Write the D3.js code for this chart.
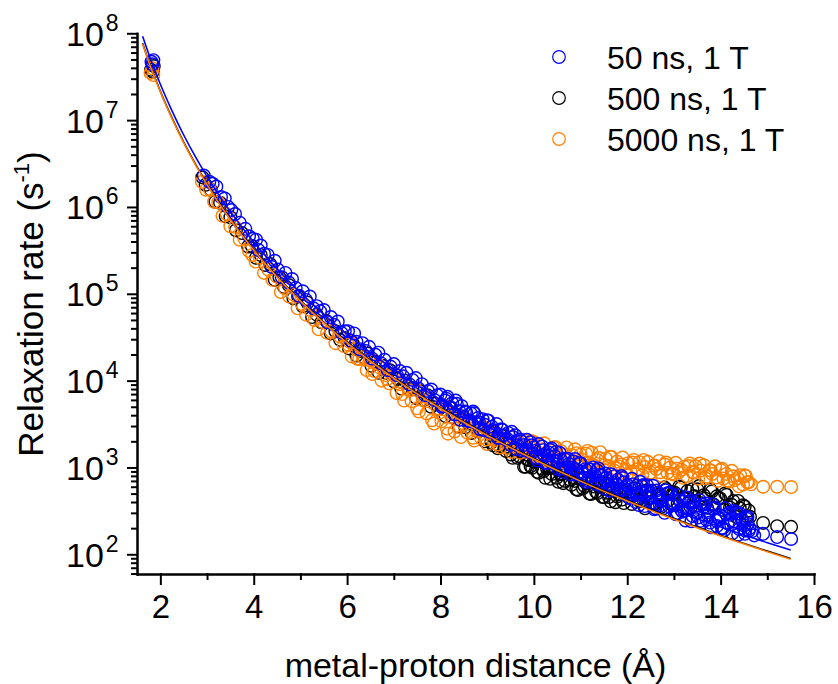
<!DOCTYPE html>
<html lang="en">

<head>
    <meta charset="UTF-8">
    <title>Relaxation rate vs metal-proton distance</title>
    <script src="https://d3js.org/d3.v7.min.js"></script>
    <style>
        body {
            margin: 0;
            background: #fff;
        }

        svg {
            display: block;
            font-family: "Liberation Sans", Arial, sans-serif;
        }
    </style>
</head>

<body>
    <svg width="838" height="684"></svg>

    <script>
        // series info
        const seriesNames = ["50 ns, 1 T", "500 ns, 1 T", "5000 ns, 1 T"];
        const seriesColors = ["#0000ff", "#000000", "#ff8000"];

        // axis ticks
        const xMajorTicks = [2, 4, 6, 8, 10, 12, 14, 16];
        const xMinorTicks = [3, 5, 7, 9, 11, 13, 15];
        const yMajorTicks = [1e2, 1e3, 1e4, 1e5, 1e6, 1e7, 1e8];

        // fitted curves
        const fitX = [1.62, 1.8, 2, 2.25, 2.5, 2.75, 3, 3.5, 4, 4.5, 5, 5.5, 6, 7, 8, 9, 10, 11, 12, 13, 14, 15, 15.5];
        const fit50 = [9.24e7, 4.89e7, 2.59e7, 1.28e7, 6.74e6, 3.79e6, 2.24e6, 8.84e5, 3.95e5, 1.94e5, 1.03e5, 5.78e4, 3.42e4, 1.35e4, 6.03e3, 2.96e3, 1570, 882, 521, 322, 206, 136, 112];
        const fit500 = [7.70e7, 4.06e7, 2.15e7, 1.06e7, 5.57e6, 3.13e6, 1.85e6, 7.26e5, 3.24e5, 1.59e5, 8.41e4, 4.71e4, 2.78e4, 1.09e4, 4.88e3, 2.39e3, 1270, 710, 418, 258, 165, 109, 89.6];
        const fit5000 = [7.55e7, 3.98e7, 2.11e7, 1.04e7, 5.46e6, 3.07e6, 1.81e6, 7.11e5, 3.18e5, 1.56e5, 8.24e4, 4.62e4, 2.72e4, 1.07e4, 4.78e3, 2.34e3, 1245, 696, 410, 253, 162, 107, 87.8];

        // measured points [distance, rate]
        const pts50 = [
            [1.81, 4.7e7], [1.83, 4.4e7], [1.85, 4.9e7],
            [2.93, 2.3e6], [3.05, 1.95e6], [3.12, 1.85e6], [3.2, 1.72e6], [3.3, 1.3e6], [3.38, 1.25e6], [3.45, 1.0e6], [3.52, 9.2e5], [3.6, 8.3e5], [3.7, 6.6e5], [3.82, 5.6e5], [3.9, 4.6e5], [3.98, 4.3e5],
            [4.05, 4.2e5], [4.1, 3.2e5], [4.15, 3.6e5], [4.22, 2.9e5], [4.3, 2.8e5], [4.38, 2.05e5], [4.45, 2.4e5], [4.52, 1.9e5], [4.6, 1.55e5], [4.68, 1.74e5], [4.75, 1.35e5], [4.82, 1.48e5], [4.9, 1.17e5], [4.97, 9.5e4],
            [5.05, 1.07e5], [5.12, 8.5e4], [5.2, 9.3e4], [5.28, 6.8e4], [5.35, 7.2e4], [5.42, 6.3e4], [5.5, 6.5e4], [5.58, 4.7e4], [5.65, 5.4e4], [5.72, 4.4e4], [5.8, 4.8e4], [5.88, 3.55e4], [5.95, 3.7e4],
            [6.02, 3.7e4], [6.08, 2.9e4], [6.15, 3.5e4], [6.2, 2.8e4], [6.27, 2.3e4], [6.33, 2.7e4], [6.4, 2.2e4], [6.47, 2.45e4], [6.53, 1.8e4], [6.6, 2.0e4], [6.67, 2.1e4], [6.73, 1.58e4], [6.8, 1.74e4], [6.87, 1.32e4], [6.93, 1.45e4],
            [7.0, 1.55e4], [7.07, 1.15e4], [7.13, 1.29e4], [7.2, 1.12e4], [7.27, 1.23e4], [7.33, 9.1e3], [7.4, 1.02e4], [7.47, 1.07e4], [7.53, 8.1e3], [7.6, 9.1e3], [7.67, 6.8e3], [7.73, 7.6e3], [7.8, 7.9e3], [7.87, 6.0e3], [7.93, 6.8e3],
            [8.0, 6.9e3], [8.05, 5.1e3], [8.1, 5.9e3], [8.15, 6.5e3], [8.2, 4.9e3], [8.25, 5.5e3], [8.3, 4.1e3], [8.35, 5.4e3], [8.4, 4.47e3], [8.45, 5.1e3], [8.5, 3.8e3], [8.55, 4.3e3], [8.6, 3.4e3], [8.65, 4.2e3], [8.7, 4.4e3], [8.75, 3.3e3], [8.8, 3.7e3], [8.85, 2.75e3], [8.9, 3.6e3], [8.95, 3.1e3],
            [9.0, 3.5e3], [9.05, 2.57e3], [9.1, 2.95e3], [9.15, 2.6e3], [9.2, 3.16e3], [9.25, 2.2e3], [9.3, 2.75e3], [9.35, 2.35e3], [9.4, 2.1e3], [9.45, 2.5e3], [9.5, 1.82e3], [9.55, 2.24e3], [9.6, 2.35e3], [9.65, 1.8e3], [9.7, 2.1e3], [9.75, 1.58e3], [9.8, 1.82e3], [9.85, 2.08e3], [9.9, 1.51e3], [9.95, 1.8e3],
            [10.0, 1.7e3], [10.05, 1.29e3], [10.08, 1.2e3], [10.1, 1.86e3], [10.15, 1.38e3], [10.2, 1.58e3], [10.25, 1.12e3], [10.3, 1.38e3], [10.35, 1.6e3], [10.38, 1.66e3], [10.4, 1.12e3], [10.45, 1.35e3], [10.5, 1.17e3], [10.55, 1.48e3], [10.6, 980], [10.62, 890], [10.65, 1.26e3], [10.7, 1000], [10.75, 1.1e3], [10.8, 830], [10.85, 1.17e3], [10.88, 1.25e3], [10.9, 955], [10.95, 830],
            [11.0, 1.12e3], [11.05, 850], [11.1, 955], [11.12, 680], [11.15, 710], [11.2, 950], [11.25, 740], [11.3, 830], [11.35, 930], [11.38, 975], [11.4, 660], [11.45, 820], [11.5, 575], [11.55, 760], [11.6, 645], [11.62, 540], [11.65, 835], [11.7, 562], [11.75, 665], [11.8, 724], [11.85, 560], [11.88, 795], [11.9, 755], [11.95, 490],
            [12.0, 630], [12.05, 445], [12.08, 490], [12.1, 740], [12.15, 500], [12.18, 402], [12.2, 615], [12.25, 370], [12.3, 515], [12.32, 610], [12.35, 630], [12.4, 405], [12.42, 625], [12.45, 535], [12.5, 445], [12.55, 615], [12.58, 330], [12.6, 340], [12.65, 510], [12.68, 473], [12.7, 365], [12.75, 450], [12.8, 300], [12.82, 545], [12.85, 500], [12.9, 355], [12.92, 507], [12.95, 380],
            [13.0, 410], [13.05, 290], [13.08, 298], [13.1, 480], [13.15, 330], [13.18, 310], [13.2, 405], [13.25, 245], [13.3, 340], [13.32, 400], [13.35, 415], [13.4, 275], [13.42, 395], [13.45, 360], [13.5, 300], [13.55, 420], [13.58, 243], [13.6, 230], [13.65, 355], [13.68, 385], [13.7, 250], [13.75, 305], [13.8, 205], [13.82, 378], [13.85, 335], [13.9, 245], [13.92, 212], [13.95, 265],
            [14.0, 280], [14.05, 200], [14.08, 190], [14.1, 340], [14.15, 228], [14.18, 300], [14.2, 285], [14.25, 175], [14.3, 240], [14.32, 308], [14.35, 295], [14.4, 195], [14.42, 292], [14.45, 255], [14.5, 215], [14.52, 172], [14.55, 258], [14.58, 224], [14.6, 186], [14.62, 200],
            [14.68, 185], [14.72, 165], [14.91, 172], [15.21, 158], [15.51, 150]
        ];

        // extra points of the dense part of the 50 ns band
        const pts50Dense = [
            [8.025, 5.0e3], [8.125, 6.2e3], [8.225, 4.9e3], [8.325, 5.9e3], [8.425, 3.55e3], [8.525, 4.4e3], [8.625, 3.45e3], [8.725, 4.2e3], [8.825, 3.3e3], [8.925, 2.7e3],
            [9.025, 3.45e3], [9.125, 2.7e3], [9.225, 2.2e3], [9.325, 2.7e3], [9.425, 2.15e3], [9.525, 2.57e3], [9.625, 1.62e3], [9.725, 2.0e3], [9.825, 1.58e3], [9.925, 1.95e3],
            [10.025, 1.55e3], [10.125, 1.29e3], [10.175, 1.74e3], [10.225, 1.38e3], [10.275, 1.15e3], [10.325, 1.48e3], [10.425, 1.2e3], [10.475, 1.51e3], [10.525, 955], [10.575, 1.23e3], [10.675, 1.0e3], [10.725, 1.26e3], [10.825, 1.0e3], [10.925, 830], [10.975, 1.12e3],
            [11.025, 890], [11.075, 760], [11.175, 955], [11.225, 795], [11.275, 1.0e3], [11.325, 645], [11.425, 813], [11.475, 676], [11.525, 851], [11.575, 708], [11.675, 589], [11.725, 794], [11.775, 631], [11.825, 537], [11.925, 676], [11.975, 562],
            [12.025, 452], [12.125, 638], [12.225, 484], [12.275, 684], [12.375, 359], [12.475, 507], [12.525, 394], [12.625, 543], [12.725, 417], [12.775, 339], [12.875, 505], [12.975, 367],
            [13.025, 292], [13.125, 418], [13.225, 320], [13.275, 450], [13.375, 240], [13.475, 343], [13.525, 266], [13.625, 372], [13.725, 285], [13.775, 232], [13.875, 347], [13.975, 254],
            [14.025, 202], [14.125, 288], [14.225, 221], [14.275, 316], [14.375, 168], [14.475, 240], [14.525, 188], [14.575, 269]
        ];

        const pts500 = [
            [1.8, 3.8e7], [1.84, 3.6e7], [1.86, 4.2e7],
            [2.9, 2.2e6], [2.97, 1.8e6], [3.08, 1.58e6], [3.18, 1.15e6], [3.28, 1.12e6], [3.4, 7.8e5], [3.5, 7.6e5], [3.62, 5.4e5], [3.75, 5.0e5], [3.88, 3.5e5], [3.96, 3.55e5],
            [4.05, 2.6e5], [4.15, 2.8e5], [4.25, 2.15e5], [4.35, 2.2e5], [4.45, 1.45e5], [4.55, 1.55e5], [4.65, 1.2e5], [4.75, 1.26e5], [4.85, 8.9e4], [4.95, 9.3e4],
            [5.05, 7.2e4], [5.15, 7.9e4], [5.25, 5.4e4], [5.35, 5.75e4], [5.45, 4.7e4], [5.55, 4.9e4], [5.65, 3.5e4], [5.75, 3.7e4], [5.85, 2.95e4], [5.95, 3.1e4],
            [6.04, 2.35e4], [6.12, 2.7e4], [6.2, 1.95e4], [6.28, 2.2e4], [6.36, 1.86e4], [6.44, 2.05e4], [6.52, 1.48e4], [6.6, 1.66e4], [6.68, 1.23e4], [6.76, 1.48e4], [6.84, 1.23e4], [6.92, 1.32e4],
            [7.0, 9.8e3], [7.08, 1.05e4], [7.16, 8.1e3], [7.24, 1.0e4], [7.32, 7.9e3], [7.4, 8.3e3], [7.48, 6.3e3], [7.56, 7.6e3], [7.64, 6.0e3], [7.72, 6.8e3], [7.8, 5.0e3], [7.88, 5.4e3], [7.96, 4.7e3],
            [8.04, 5.2e3], [8.11, 3.9e3], [8.18, 5.0e3], [8.25, 3.8e3], [8.32, 4.1e3], [8.39, 2.95e3], [8.46, 3.9e3], [8.53, 2.9e3], [8.6, 3.2e3], [8.67, 2.5e3], [8.74, 3.3e3], [8.81, 2.6e3], [8.88, 2.8e3], [8.95, 2.0e3],
            [9.02, 2.55e3], [9.09, 1.95e3], [9.16, 2.2e3], [9.23, 1.66e3], [9.3, 2.18e3], [9.37, 1.7e3], [9.44, 1.9e3], [9.51, 1.41e3], [9.58, 1.65e3], [9.65, 1.29e3], [9.72, 1.5e3], [9.79, 1.02e3], [9.86, 1.23e3], [9.93, 1.03e3],
            [10.0, 1.17e3], [10.07, 890], [10.14, 1.18e3], [10.21, 910], [10.28, 980], [10.35, 740], [10.42, 1000], [10.49, 760], [10.56, 850], [10.63, 660], [10.7, 895], [10.77, 725], [10.84, 775], [10.91, 562], [10.98, 745],
            [11.05, 575], [11.12, 662], [11.19, 502], [11.26, 676], [11.33, 525], [11.4, 600], [11.47, 457], [11.54, 565], [11.61, 455], [11.68, 558], [11.75, 398], [11.82, 490], [11.89, 427], [11.96, 537],
            [12.03, 513], [12.1, 380], [12.17, 575], [12.24, 425], [12.31, 528], [12.38, 338], [12.45, 446], [12.52, 540], [12.59, 382], [12.66, 484], [12.73, 352], [12.8, 590], [12.87, 412], [12.94, 522],
            [13.01, 515], [13.08, 378], [13.15, 585], [13.22, 437], [13.29, 535], [13.36, 347], [13.43, 468], [13.5, 560], [13.57, 389], [13.64, 478], [13.71, 343], [13.78, 555], [13.85, 375], [13.92, 465], [13.99, 440],
            [14.06, 324], [14.13, 484], [14.2, 345], [14.27, 410], [14.34, 269], [14.41, 339], [14.48, 367], [14.55, 275], [14.6, 320],
            [14.63, 270], [14.91, 230], [15.21, 211], [15.51, 207]
        ];

        const pts500Dense = [
            [9.055, 2.6e3], [9.125, 1.8e3], [9.195, 2.14e3], [9.265, 1.78e3], [9.335, 2.29e3], [9.405, 1.55e3], [9.475, 1.7e3], [9.545, 1.29e3], [9.615, 1.64e3], [9.685, 1.35e3], [9.755, 1.51e3], [9.825, 1.02e3], [9.895, 1.22e3], [9.965, 990],
            [10.035, 1.27e3], [10.105, 870], [10.175, 966], [10.245, 759], [10.315, 990], [10.385, 841], [10.455, 977], [10.525, 684], [10.595, 832], [10.665, 700], [10.735, 923], [10.805, 631], [10.875, 700], [10.945, 550],
            [11.015, 724], [11.085, 610], [11.155, 708], [11.225, 495], [11.295, 603], [11.365, 507], [11.435, 668], [11.505, 457], [11.575, 513], [11.645, 407], [11.715, 543], [11.785, 462], [11.855, 543], [11.925, 389],
            [12.135, 473], [12.275, 407], [12.415, 543], [12.555, 380], [12.695, 442], [12.835, 562], [12.975, 501], [13.115, 603], [13.255, 437], [13.395, 562], [13.535, 610], [13.675, 437], [13.815, 531], [13.955, 442],
            [14.095, 501], [14.235, 372], [14.375, 412], [14.515, 355]
        ];

        const pts5000 = [
            [1.79, 3.5e7], [1.83, 3.95e7], [1.85, 3.3e7],
            [2.89, 1.95e6], [2.98, 1.58e6], [3.06, 1.6e6], [3.15, 1.15e6], [3.24, 1.13e6], [3.33, 7.9e5], [3.42, 8.3e5], [3.5, 6.0e5], [3.6, 5.9e5], [3.7, 4.2e5], [3.8, 4.3e5], [3.9, 3.1e5], [3.97, 2.8e5],
            [4.04, 2.35e5], [4.13, 2.6e5], [4.22, 1.74e5], [4.31, 1.9e5], [4.4, 1.45e5], [4.49, 1.58e5], [4.58, 1.05e5], [4.67, 1.15e5], [4.76, 9.3e4], [4.85, 9.8e4], [4.94, 6.8e4],
            [5.03, 7.6e4], [5.12, 5.75e4], [5.21, 6.5e4], [5.3, 5.0e4], [5.39, 3.9e4], [5.48, 4.7e4], [5.57, 3.55e4], [5.66, 3.7e4], [5.75, 2.7e4], [5.84, 3.25e4], [5.93, 2.5e4],
            [6.02, 2.6e4], [6.1, 1.9e4], [6.18, 2.35e4], [6.26, 1.78e4], [6.34, 1.86e4], [6.42, 1.32e4], [6.5, 1.7e4], [6.58, 1.29e4], [6.66, 1.55e4], [6.74, 1.0e4], [6.82, 1.15e4], [6.9, 9.3e3], [6.98, 1.17e4],
            [7.06, 7.2e3], [7.14, 9.1e3], [7.22, 5.9e3], [7.3, 8.5e3], [7.38, 5.8e3], [7.46, 8.1e3], [7.54, 4.4e3], [7.62, 6.0e3], [7.7, 4.2e3], [7.78, 6.1e3], [7.86, 3.2e3], [7.94, 4.8e3],
            [8.02, 3.4e3], [8.09, 5.1e3], [8.16, 2.45e3], [8.23, 3.8e3], [8.3, 2.6e3], [8.37, 3.9e3], [8.44, 2.24e3], [8.51, 3.15e3], [8.58, 2.5e3], [8.65, 3.4e3], [8.72, 2.04e3], [8.79, 2.63e3], [8.86, 2.2e3], [8.93, 2.9e3],
            [9.0, 1.86e3], [9.07, 2.45e3], [9.14, 2.05e3], [9.21, 2.44e3], [9.28, 1.7e3], [9.35, 2.1e3], [9.42, 1.68e3], [9.49, 2.24e3], [9.56, 1.74e3], [9.63, 2.0e3], [9.7, 1.48e3], [9.77, 2.09e3], [9.84, 1.51e3], [9.91, 1.73e3], [9.98, 1.99e3],
            [10.04, 1.38e3], [10.1, 1.82e3], [10.16, 1.45e3], [10.22, 1.9e3], [10.28, 1.2e3], [10.34, 1.58e3], [10.4, 1.29e3], [10.46, 1.72e3], [10.52, 1.37e3], [10.58, 1.55e3], [10.64, 1.15e3], [10.7, 1.7e3], [10.76, 1.23e3], [10.82, 1.39e3], [10.88, 1.62e3], [10.94, 1.1e3],
            [11.0, 1.41e3], [11.06, 1.0e3], [11.12, 1.44e3], [11.18, 1.14e3], [11.24, 1.48e3], [11.3, 1.05e3], [11.36, 1.22e3], [11.42, 1.5e3], [11.48, 955], [11.54, 1.27e3], [11.6, 1.04e3], [11.66, 1.32e3], [11.72, 923], [11.78, 1.17e3], [11.84, 1.02e3], [11.9, 1.3e3], [11.96, 912],
            [12.02, 1.12e3], [12.08, 870], [12.14, 1.22e3], [12.2, 950], [12.26, 1.15e3], [12.32, 813], [12.38, 1.01e3], [12.44, 1.16e3], [12.5, 875], [12.56, 1.05e3], [12.62, 960], [12.68, 1.19e3], [12.74, 804], [12.8, 1.08e3], [12.86, 868], [12.92, 1.0e3], [12.98, 832],
            [13.04, 1.13e3], [13.1, 881], [13.16, 944], [13.22, 1.02e3], [13.28, 794], [13.34, 1.11e3], [13.4, 885], [13.46, 1.04e3], [13.52, 741], [13.58, 920], [13.64, 1.06e3], [13.7, 785], [13.76, 933], [13.82, 841], [13.88, 1.03e3], [13.94, 700],
            [14.0, 935], [14.06, 746], [14.12, 843], [14.18, 689], [14.24, 914], [14.3, 714], [14.36, 753], [14.42, 815], [14.48, 634], [14.54, 800], [14.6, 676],
            [14.65, 640], [14.91, 600], [15.21, 600], [15.51, 595]
        ];

        const pts5000Dense = [
            [6.06, 2.79e4], [6.22, 1.78e4], [6.38, 1.74e4], [6.54, 1.19e4], [6.7, 1.41e4], [6.86, 1.04e4], [7.02, 1.16e4], [7.18, 7.0e3], [7.34, 7.7e3], [7.5, 4.8e3], [7.66, 6.5e3], [7.82, 3.5e3], [7.98, 4.3e3],
            [8.14, 2.8e3], [8.28, 4.1e3], [8.42, 2.9e3], [8.56, 3.6e3], [8.7, 2.2e3], [8.84, 2.7e3], [8.98, 2.1e3], [9.1, 2.57e3], [9.24, 1.84e3], [9.38, 2.0e3], [9.52, 1.51e3], [9.66, 2.0e3], [9.8, 1.62e3], [9.94, 2.0e3],
            [10.07, 1.33e3], [10.19, 1.62e3], [10.31, 1.35e3], [10.43, 1.7e3], [10.55, 1.24e3], [10.67, 1.4e3], [10.79, 1.08e3], [10.91, 1.46e3], [11.03, 1.23e3], [11.15, 1.55e3], [11.27, 1.05e3], [11.39, 1.29e3], [11.51, 1.07e3], [11.63, 1.33e3], [11.75, 977], [11.87, 1.08e3], [11.99, 832],
            [12.11, 1.14e3], [12.23, 955], [12.35, 1.22e3], [12.47, 832], [12.59, 1.05e3], [12.71, 881], [12.83, 1.14e3], [12.95, 851], [13.07, 966], [13.19, 759], [13.31, 1.04e3], [13.43, 871], [13.55, 1.11e3], [13.67, 750], [13.79, 923], [13.91, 767],
            [14.03, 966], [14.15, 708], [14.27, 791], [14.39, 607], [14.51, 813], [14.57, 676]
        ];

        const svg = d3.select("svg");

        // scales
        const x = d3.scaleLinear()
            .domain([1.5, 16])
            .range([137, 814]);

        const y = d3.scaleLog()
            .domain([59.3, 1e8])
            .range([574, 33.3]);

        // minor log ticks = everything that is not a power of ten
        const yMinorTicks = y.ticks().filter(d => Math.abs(Math.log10(d) - Math.round(Math.log10(d))) > 1e-6);

        // scatter: black first, then orange, blue on top
        const pointSets = [
            { pts: pts500.concat(pts500Dense), color: seriesColors[1] },
            { pts: pts5000.concat(pts5000Dense), color: seriesColors[2] },
            { pts: pts50.concat(pts50Dense), color: seriesColors[0] }
        ];

        pointSets.forEach(s => {
            svg.append("g")
                .selectAll("circle")
                .data(s.pts)
                .join("circle")
                .attr("cx", d => x(d[0]))
                .attr("cy", d => y(d[1]))
                .attr("r", 6.3)
                .attr("fill", "none")
                .attr("stroke", s.color)
                .attr("stroke-width", 1.4);
        });

        // fit lines
        const line = d3.line()
            .x(d => x(d[0]))
            .y(d => y(d[1]))
            .curve(d3.curveMonotoneX);

        [[fit50, seriesColors[0]], [fit500, seriesColors[1]], [fit5000, seriesColors[2]]].forEach(([vals, color]) => {
            svg.append("path")
                .datum(fitX.map((d, i) => [d, vals[i]]))
                .attr("d", line)
                .attr("fill", "none")
                .attr("stroke", color)
                .attr("stroke-width", 1.6);
        });

        // axes
        function styleAxis(g) {
            g.selectAll("path, line")
                .attr("stroke", "#000")
                .attr("stroke-width", 2)
                .attr("stroke-linecap", "square");
        }

        svg.append("g")
            .attr("transform", "translate(0,574)")
            .call(d3.axisBottom(x).tickValues(xMinorTicks).tickSize(5).tickSizeOuter(0).tickFormat(""))
            .call(styleAxis);

        svg.append("g")
            .attr("transform", "translate(0,574)")
            .call(d3.axisBottom(x).tickValues(xMajorTicks).tickSize(10).tickSizeOuter(0).tickPadding(11))
            .call(styleAxis)
            .call(g => g.selectAll("text")
                .attr("font-size", 33)
                .attr("font-family", "Liberation Sans, Arial, sans-serif")
                .attr("fill", "#000"));

        svg.append("g")
            .attr("transform", "translate(137,0)")
            .call(d3.axisLeft(y).tickValues(yMinorTicks).tickSize(5).tickSizeOuter(0).tickFormat(""))
            .call(styleAxis);

        svg.append("g")
            .attr("transform", "translate(137,0)")
            .call(d3.axisLeft(y).tickValues(yMajorTicks).tickSize(9).tickSizeOuter(0).tickFormat(""))
            .call(styleAxis);

        // y tick labels as 10^n
        const yLabels = svg.append("g")
            .selectAll("text")
            .data(yMajorTicks)
            .join("text")
            .attr("x", 66)
            .attr("y", d => y(d) + 12.5)
            .attr("font-size", 34)
            .attr("fill", "#000");

        yLabels.append("tspan").text("10");
        yLabels.append("tspan")
            .attr("dx", 2)
            .attr("dy", -15)
            .attr("font-size", 23)
            .text(d => Math.round(Math.log10(d)));

        // axis titles
        svg.append("text")
            .attr("x", 475.5)
            .attr("y", 677)
            .attr("text-anchor", "middle")
            .attr("font-size", 34)
            .text("metal-proton distance (Å)");

        const yTitle = svg.append("text")
            .attr("transform", "translate(43,304) rotate(-90)")
            .attr("text-anchor", "middle")
            .attr("font-size", 35);
        yTitle.append("tspan").text("Relaxation rate (s");
        yTitle.append("tspan").attr("dy", -14).attr("font-size", 22).text("-1");
        yTitle.append("tspan").attr("dy", 14).text(")");

        // legend
        const legend = svg.append("g")
            .selectAll("g")
            .data(seriesNames)
            .join("g")
            .attr("transform", (d, i) => `translate(0,${57 + i * 41})`);

        legend.append("circle")
            .attr("cx", 559)
            .attr("cy", 0)
            .attr("r", 6.3)
            .attr("fill", "none")
            .attr("stroke", (d, i) => seriesColors[i])
            .attr("stroke-width", 1.2);

        legend.append("text")
            .attr("x", 607)
            .attr("y", 12)
            .attr("font-size", 32)
            .text(d => d);
    </script>
</body>

</html>
